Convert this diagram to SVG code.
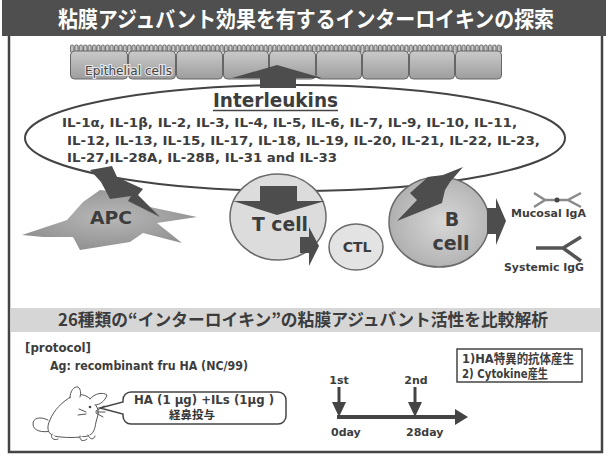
<svg xmlns="http://www.w3.org/2000/svg" width="608" height="456" viewBox="0 0 608 456">
<style>
  .lat { font-family: "DejaVu Sans", "Noto Sans CJK JP", sans-serif; font-weight: bold; fill: #3d3d3d; }
  .jp { font-family: "Noto Sans CJK JP", sans-serif; font-weight: bold; }
  .dark { fill: #4d4d4d; }
  .cellLine { stroke: #6a6a6a; stroke-width: 1.5; }
  .sketch { fill: #fff; stroke: #555; stroke-width: 1; stroke-linejoin: round; stroke-linecap: round; }
</style>
<defs>
  <linearGradient id="epiFill" x1="0" y1="0" x2="0" y2="1">
    <stop offset="0" stop-color="#cacaca"/>
    <stop offset="1" stop-color="#9d9d9d"/>
  </linearGradient>
  <radialGradient id="bFill" cx="0.55" cy="0.5" r="0.6">
    <stop offset="0" stop-color="#d8d8d8"/>
    <stop offset="1" stop-color="#acacac"/>
  </radialGradient>
  <radialGradient id="apcFill" cx="0.5" cy="0.45" r="0.6">
    <stop offset="0" stop-color="#b8b8b8"/>
    <stop offset="1" stop-color="#8e8e8e"/>
  </radialGradient>
  <pattern id="villi" patternUnits="userSpaceOnUse" x="70" y="44" width="4.4" height="8">
    <path d="M0.6,8 V2.4 A1.5,1.5 0 0 1 3.6,2.4 V8" fill="#d2d2d2" stroke="#555" stroke-width="0.9"/>
  </pattern>
</defs>

<!-- frame and title band -->
<rect x="9" y="34" width="593" height="418" fill="#fff" stroke="#444" stroke-width="2.5"/>
<rect x="2" y="0" width="604" height="36" fill="#4f4f4f"/>
<text class="jp" x="306" y="26.5" font-size="22" fill="#fff" text-anchor="middle" textLength="496" lengthAdjust="spacingAndGlyphs">粘膜アジュバント効果を有するインターロイキンの探索</text>

<!-- epithelium -->
<g id="epithelium">
  <rect x="70" y="44" width="432" height="9" fill="url(#villi)"/>
  <g fill="url(#epiFill)" stroke="#666" stroke-width="1">
    <rect x="70.5" y="51" width="57" height="28" rx="4"/>
    <rect x="128.5" y="51" width="47" height="28" rx="4"/>
    <rect x="176.5" y="51" width="46" height="28" rx="4"/>
    <rect x="223.5" y="51" width="45" height="28" rx="4"/>
    <rect x="269.5" y="51" width="46" height="28" rx="4"/>
    <rect x="316.5" y="51" width="45" height="28" rx="4"/>
    <rect x="362.5" y="51" width="46" height="28" rx="4"/>
    <rect x="409.5" y="51" width="45" height="28" rx="4"/>
    <rect x="455.5" y="51" width="46" height="28" rx="4"/>
  </g>
  <text x="85" y="75" font-family="DejaVu Sans, sans-serif" font-size="11.5" textLength="87" lengthAdjust="spacingAndGlyphs" stroke="#e6e6e6" stroke-width="2" paint-order="stroke" fill="#444">Epithelial cells</text>
</g>

<!-- interleukin pool -->
<g id="interleukins">
  <ellipse cx="295" cy="138" rx="270" ry="53" fill="none" stroke="#444" stroke-width="2"/>
  <text class="lat" x="275.5" y="107" font-size="20" text-anchor="middle" textLength="125" lengthAdjust="spacingAndGlyphs" fill="#444">Interleukins</text>
  <line x1="213" y1="110.5" x2="338" y2="110.5" stroke="#444" stroke-width="1.5"/>
  <text class="lat" x="62" y="127" font-size="12.5" textLength="455" lengthAdjust="spacingAndGlyphs">IL-1α, IL-1β, IL-2, IL-3, IL-4, IL-5, IL-6, IL-7, IL-9, IL-10, IL-11,</text>
  <text class="lat" x="67" y="145" font-size="12.5" textLength="473" lengthAdjust="spacingAndGlyphs">IL-12, IL-13, IL-15, IL-17, IL-18, IL-19, IL-20, IL-21, IL-22, IL-23,</text>
  <text class="lat" x="67" y="162" font-size="12.5" textLength="270" lengthAdjust="spacingAndGlyphs">IL-27,IL-28A, IL-28B, IL-31 and IL-33</text>
</g>

<!-- APC -->
<g id="apc">
  <polygon fill="url(#apcFill)" points="22,235 67,220 83,202 100,190 127,193 150,207 197,217 157,223 182,243 143,233 130,242 80,250 73,237 43,237"/>
  <text class="lat" x="111" y="224" font-size="18" text-anchor="middle" textLength="42" lengthAdjust="spacingAndGlyphs" fill="#3a3a3a">APC</text>
</g>

<!-- T cell -->
<g id="tcell">
  <ellipse cx="278" cy="217" rx="48" ry="43" fill="#dcdcdc" class="cellLine"/>
  <text class="lat" x="280" y="231" font-size="20" text-anchor="middle" textLength="56" lengthAdjust="spacingAndGlyphs">T cell</text>
</g>

<!-- CTL -->
<g id="ctl">
  <ellipse cx="356" cy="247" rx="27" ry="23" fill="#e3e3e3" class="cellLine"/>
  <text class="lat" x="357" y="252" font-size="14" text-anchor="middle">CTL</text>
</g>

<!-- B cell -->
<g id="bcell">
  <ellipse cx="439" cy="222" rx="50" ry="45" fill="url(#bFill)" class="cellLine"/>
  <text class="lat" x="452" y="226" font-size="19" text-anchor="middle">B</text>
  <text class="lat" x="451" y="250" font-size="19" text-anchor="middle">cell</text>
</g>

<!-- antibodies -->
<g id="iga">
  <path d="M534,193 L545,200 L534,207 M545,200 H568 M581,193 L568,200 L581,207" fill="none" stroke="#8a8a8a" stroke-width="2.5"/>
  <circle cx="557" cy="200" r="2.5" fill="#444"/>
  <text class="lat" x="511" y="217" font-size="11" textLength="75" lengthAdjust="spacingAndGlyphs" fill="#444">Mucosal IgA</text>
</g>
<g id="igg">
  <path d="M536,248 H563 M581,237 L563,248 L581,261" fill="none" stroke="#555" stroke-width="3.5"/>
  <text class="lat" x="504" y="271" font-size="11" textLength="80" lengthAdjust="spacingAndGlyphs" fill="#444">Systemic IgG</text>
</g>

<!-- signals between pool and cells -->
<g id="connectors" class="dark">
  <polygon points="277,65 322,78 296,78 296,88 260,88 260,78 232,78"/>
  <polygon points="90,170 112,166 117,177 143,189 138,195 160,217 128,201 131,196 110,199 101,182"/>
  <polygon points="260,186 297,186 297,201 325,201 277,215 233,201 260,201"/>
  <polygon points="463,167 443,175 428,177 410,193 417,200 397,221 442,203 445,190 450,182"/>
  <polygon points="300,237 309,237 309,227 319,246 309,266 309,253 300,253"/>
  <polygon points="487,208 496,208 496,198 506,221 496,245 496,234 487,234"/>
</g>

<!-- comparison banner -->
<rect x="11" y="308" width="589" height="24" fill="#d6d6d6"/>
<text class="jp" x="303" y="326" font-size="17" text-anchor="middle" textLength="490" lengthAdjust="spacingAndGlyphs" fill="#3c3c3c">26種類の“インターロイキン”の粘膜アジュバント活性を比較解析</text>

<!-- protocol -->
<text class="lat" x="25" y="352" font-size="12" textLength="66" lengthAdjust="spacingAndGlyphs" fill="#333">[protocol]</text>
<text class="lat" x="50" y="370" font-size="12.5" textLength="198" lengthAdjust="spacingAndGlyphs" fill="#333">Ag: recombinant fru HA (NC/99)</text>

<!-- mouse -->
<g id="mouse">
  <path class="sketch" d="M48,420 C40,416 33,418 33,424 C33,431 42,433 52,431" fill="none"/>
  <path class="sketch" d="M72,396 C62,402 54,410 50,420 C46,428 48,434 54,436 C64,438 78,438 88,436 C94,434 95,428 96,422 C97,418 99,414 98,410 C96,404 92,399 86,396 C82,394 76,394 72,396 Z"/>
  <path class="sketch" d="M70,398 C70,391 74,386 78,387 C81,389 81,394 80,397"/>
  <path class="sketch" fill="#cfcfcf" d="M90,399 C95,393 103,392 107,395 C105,401 100,405 95,405"/>
  <circle cx="90" cy="407" r="1.3" fill="#444"/>
  <path class="sketch" fill="none" d="M96,411 L104,406 M96,412 L105,412 M96,413 L103,417 M86,412 L79,409 M86,414 L78,415"/>
  <path class="sketch" d="M52,434 C50,438 54,441 58,439 M80,436 C79,441 84,442 87,439 M88,435 C90,440 94,440 95,436"/>
</g>

<!-- speech bubble -->
<g id="bubble">
  <path d="M131,392 H278 A8,8 0 0 1 286,400 V416 A8,8 0 0 1 278,424 H131 A8,8 0 0 1 123,416 V414 L100,408 L123,402 V400 A8,8 0 0 1 131,392 Z" fill="#fff" stroke="#444" stroke-width="1.5"/>
  <text class="lat" x="134" y="404" font-size="12.5" textLength="140" lengthAdjust="spacingAndGlyphs" fill="#333">HA (1 μg) +ILs (1μg )</text>
  <text class="jp" x="192" y="419" font-size="11.5" text-anchor="middle" fill="#333">経鼻投与</text>
</g>

<!-- schedule -->
<g id="timeline">
  <line x1="337" y1="417" x2="457" y2="417" stroke="#444" stroke-width="4"/>
  <polygon points="455,409 468,417 455,425" fill="#444"/>
  <line x1="339" y1="387" x2="339" y2="403" stroke="#444" stroke-width="3"/>
  <polygon points="332,402 346,402 339,417" fill="#444"/>
  <line x1="415" y1="387" x2="415" y2="403" stroke="#444" stroke-width="3"/>
  <polygon points="408,402 422,402 415,417" fill="#444"/>
  <text class="lat" x="339" y="384" font-size="11" text-anchor="middle">1st</text>
  <text class="lat" x="416" y="384" font-size="11" text-anchor="middle">2nd</text>
  <text class="lat" x="331" y="436" font-size="11">0day</text>
  <text class="lat" x="406" y="436" font-size="11">28day</text>
</g>

<!-- readouts -->
<g id="readouts">
  <rect x="457" y="349" width="125" height="33" fill="#fff" stroke="#444" stroke-width="1.5"/>
  <text class="lat" x="462" y="363" font-size="13" textLength="112" lengthAdjust="spacingAndGlyphs" fill="#333">1)HA特異的抗体産生</text>
  <text class="lat" x="462" y="378" font-size="13" textLength="86" lengthAdjust="spacingAndGlyphs" fill="#333">2) Cytokine産生</text>
</g>
</svg>
